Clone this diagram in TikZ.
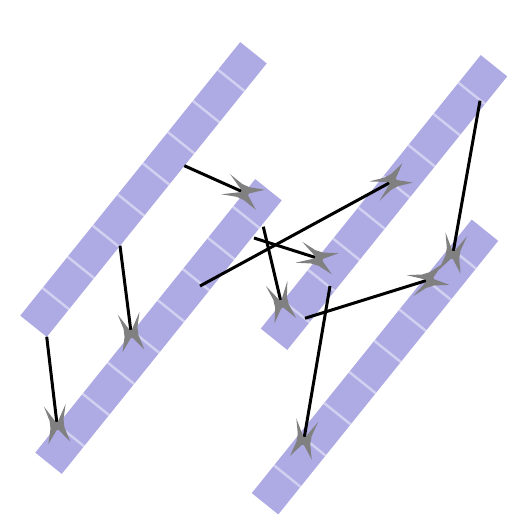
\documentclass[tikz,border=0pt]{standalone}
\usetikzlibrary{calc,arrows.meta}
\definecolor{barcol}{RGB}{173,170,228}
\pgfdeclarearrow{
  name = Star4,
  setup code = {
    \pgfarrowssettipend{0pt}
    \pgfarrowssetlineend{0pt}
    \pgfarrowssetbackend{-19pt}
    \pgfarrowshullpoint{19pt}{11pt}
    \pgfarrowshullpoint{19pt}{-11pt}
    \pgfarrowshullpoint{-19pt}{11pt}
    \pgfarrowshullpoint{-19pt}{-11pt}
  },
  drawing code = {
    \pgfpathmoveto{\pgfpoint{-19pt}{11pt}}
    \pgfpathlineto{\pgfpoint{-4pt}{7pt}}
    \pgfpathlineto{\pgfpoint{4pt}{7pt}}
    \pgfpathlineto{\pgfpoint{19pt}{11pt}}
    \pgfpathlineto{\pgfpoint{6pt}{1pt}}
    \pgfpathlineto{\pgfpoint{6pt}{-1pt}}
    \pgfpathlineto{\pgfpoint{19pt}{-11pt}}
    \pgfpathlineto{\pgfpoint{4pt}{-7pt}}
    \pgfpathlineto{\pgfpoint{-4pt}{-7pt}}
    \pgfpathlineto{\pgfpoint{-19pt}{-11pt}}
    \pgfpathlineto{\pgfpoint{-2pt}{-1pt}}
    \pgfpathlineto{\pgfpoint{-2pt}{1pt}}
    \pgfpathclose
    \pgfusepathqfill
  }
}
\begin{document}
\begin{tikzpicture}[x=1pt,y=-1pt,
  barbox/.style={fill=barcol, draw=none, inner sep=0pt, outer sep=0pt,
    minimum width=351pt, minimum height=34pt, rotate=51.2},
  seg/.style={white, opacity=0.45, line width=2.5pt},
  conn/.style={line width=3pt, -{Star4[color=gray]}}]
\useasboundingbox (0,0) rectangle (529,529);
% bars
\node[barbox] (A) at (143.5,189.5) {};
\node[barbox] (B) at (158.5,326.5) {};
\node[barbox] (C) at (384,202.5) {};
\node[barbox] (D) at (375,367) {};
\foreach \b in {A,B,C,D}{
  \foreach \k in {0,...,7}{
    \pgfmathsetmacro\t{(35.5+40*\k)/351}
    \draw[seg] ($(\b.south west)!\t!(\b.south east)$) -- ($(\b.north west)!\t!(\b.north east)$);
  }
}
% connector end points
\coordinate (a1) at (46.7,336.7);  \coordinate (b1) at (57,424);
\coordinate (a2) at (120,245.7);   \coordinate (b2) at (131,332);
\coordinate (a3) at (184.3,165.7); \coordinate (b3) at (243,192);
\coordinate (a4) at (200,286);     \coordinate (c4) at (391,182);
\coordinate (a5) at (254,238);     \coordinate (c5) at (317,258);
\coordinate (a6) at (263.3,226.7); \coordinate (c6) at (281,302);
\coordinate (a7) at (480,100.7);   \coordinate (d7) at (453,253);
\coordinate (a8) at (305,318.3);   \coordinate (d8) at (428,280);
\coordinate (a9) at (330,286);     \coordinate (d9) at (304,439);
% connectors
\draw[conn] (a1) -- (b1);
\draw[conn] (a2) -- (b2);
\draw[conn] (a3) -- (b3);
\draw[conn] (a4) -- (c4);
\draw[conn] (a5) -- (c5);
\draw[conn] (a6) -- (c6);
\draw[conn] (a7) -- (d7);
\draw[conn] (a8) -- (d8);
\draw[conn] (a9) -- (d9);
\end{tikzpicture}
\end{document}
